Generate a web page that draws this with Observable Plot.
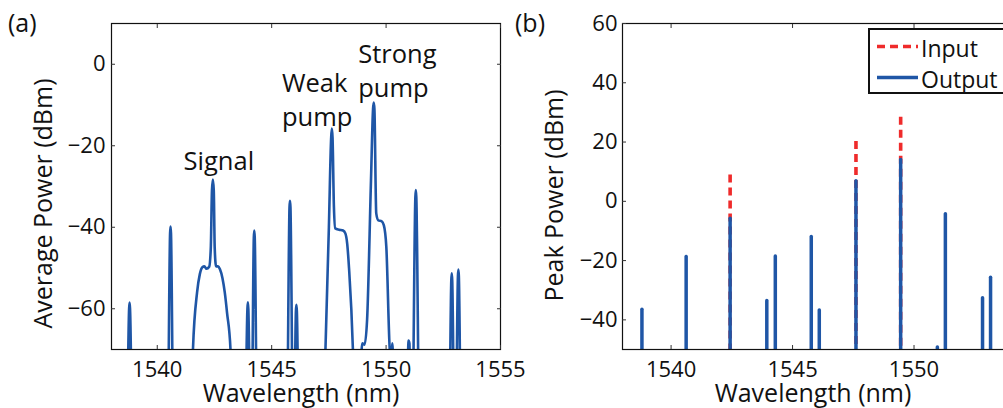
<!DOCTYPE html>
<html><head><meta charset="utf-8">
<script src="https://cdn.jsdelivr.net/npm/d3@7"></script>
<script src="https://cdn.jsdelivr.net/npm/@observablehq/plot@0.6"></script>
<style>
html,body{margin:0;padding:0;background:#fff;overflow:hidden;}
#wrap{position:relative;width:1003px;height:408px;overflow:hidden;font-family:"Open Sans",sans-serif;color:#111;}
.panel{position:absolute;top:0;}
.panel svg{max-width:none !important;}
.tag{position:absolute;font-size:25px;line-height:1;}
#legend{position:absolute;left:868px;top:28px;}
</style></head><body><div id="wrap"></div>
<script>
// ---- Panel (a): average power spectrum ----
const specWavelength = [1537.90,1538.66,1538.77,1538.79,1538.81,1538.92,1540.45,1540.56,1540.58,1540.60,1540.71,
 1541.45,1541.56,1541.74,1541.86,1541.97,1542.06,1542.15,1542.27,1542.34,1542.39,1542.43,1542.47,1542.51,1542.57,1542.66,1542.74,1542.85,1542.95,1543.05,1543.20,1543.30,
 1543.83,1543.94,1543.96,1543.98,1544.08,1544.12,1544.22,1544.24,1544.26,1544.37,
 1545.66,1545.78,1545.80,1545.82,1545.94,1545.97,1546.06,1546.08,1546.10,1546.20,
 1547.25,1547.35,1547.50,1547.60,1547.63,1547.66,1547.72,1547.78,1547.95,1548.12,1548.22,1548.30,1548.38,1548.55,1548.65,
 1548.85,1548.96,1549.06,1549.17,1549.34,1549.43,1549.46,1549.49,1549.57,1549.66,1549.80,1549.90,1550.01,1550.16,1550.22,1550.27,1550.32,1550.40,
 1550.90,1550.98,1551.02,1551.08,1551.14,1551.28,1551.30,1551.32,1551.46,
 1552.75,1552.85,1552.87,1552.89,1552.99,1553.04,1553.14,1553.16,1553.18,1553.28,1555.20];
const specPower = [-95,-92,-60,-58.5,-60,-92,-92,-41.5,-39.8,-41.5,-92,
 -92,-70,-56,-51.5,-49.8,-49.6,-50.2,-49.7,-45,-31,-28.3,-31,-45,-49.6,-49.6,-50.3,-52.5,-56,-61,-70,-92,
 -92,-60,-58.4,-60,-92,-92,-42.5,-40.8,-42.5,-92,
 -92,-35,-33.5,-35,-92,-92,-60.5,-59,-60.5,-92,
 -92,-70,-40,-18,-15.8,-18,-35,-40.3,-40.6,-40.8,-41.5,-44,-50,-70,-92,
 -80,-68.5,-68.8,-62.7,-28.5,-11,-9.4,-11,-36.6,-38.3,-38.5,-39.5,-44.8,-70,-73,-68.5,-75,-92,
 -92,-67.8,-68.5,-92,-92,-32.5,-30.9,-32.5,-92,
 -92,-53,-51.3,-53,-92,-92,-52,-50.4,-52,-92,-95];
const annotationText = ["Signal", "Weak\npump", "Strong\npump"];
const annotationWavelength = [1541.15, 1545.45, 1548.78];
const annotationPower = [-20.0, -0.95, 6.1];

// ---- Panel (b): peak power per line ----
const peakWavelength = [1538.80,1540.62,1542.43,1543.94,1544.29,1545.77,1546.10,1547.61,1549.45,1550.96,1551.29,1552.82,1553.15];
const peakOutput = [-36.6,-18.8,-5.9,-33.6,-18.6,-12.0,-36.8,6.8,13.9,-49.3,-4.4,-32.7,-25.8];
const inputWavelength = [1542.43,1547.61,1549.45];
const peakInput = [8.9,20.2,28.4];

// ---- axes ----
const xDomain = [1538, 1555];
const xTicks = [1540, 1545, 1550, 1555];
const xTicksShownB = [1540, 1545, 1550];
const yDomainA = [-70, 10];
const yTicksA = [-60, -40, -20, 0];
const yDomainB = [-50, 60];
const yTicksB = [-40, -20, 0, 20, 40, 60];
const seriesNames = ["Input", "Output"];

const FONT = '"Open Sans", sans-serif';
const BLUE = "#1f56a6";
const RED = "#ef2b2b";
const fmt = d => d < 0 ? "\u2212" + Math.abs(d) : String(d);

const spec = specWavelength.map((w, i) => ({w, p: specPower[i]}));
const ann = annotationText.map((t, i) => ({t, w: annotationWavelength[i], p: annotationPower[i]}));
const outData = peakWavelength.map((w, i) => ({w, p: peakOutput[i]}));
const inData = inputWavelength.map((w, i) => ({w, p: peakInput[i]}));

function boxAxes(xLabTicks, yTicks, pad, xLabel, yLabel, xdx, ydy) {
  const tk = {stroke: "#333", strokeWidth: 1, tickSize: 4, label: null, tickFormat: () => ""};
  return [
    Plot.frame({stroke: "#111", strokeWidth: 1.2}),
    Plot.axisX({...tk, ticks: xTicks, anchor: "bottom", dy: -4}),
    Plot.axisX({...tk, ticks: xTicks, anchor: "top", dy: 4}),
    Plot.axisY({...tk, ticks: yTicks, anchor: "left", dx: 4}),
    Plot.axisY({...tk, ticks: yTicks, anchor: "right", dx: -4}),
    Plot.axisX({ticks: xLabTicks, anchor: "bottom", tickSize: 0, tickPadding: 12, tickFormat: fmt, label: null, fontSize: 22, fill: "#111"}),
    Plot.axisY({ticks: yTicks, anchor: "left", tickSize: 0, tickPadding: pad, tickFormat: fmt, label: null, fontSize: 22, fill: "#111"}),
    Plot.text([xLabel], {frameAnchor: "bottom", textAnchor: "middle", lineAnchor: "middle", dy: 44.5, dx: xdx, fontSize: 25, fill: "#111"}),
    Plot.text([yLabel], {frameAnchor: "left", textAnchor: "middle", lineAnchor: "middle", rotate: -90, dx: -68, dy: ydy, fontSize: 25, fill: "#111"})
  ];
}

const plotA = Plot.plot({
  width: 520, height: 408,
  marginLeft: 111, marginRight: 20, marginTop: 23, marginBottom: 59,
  style: {fontFamily: FONT, background: "transparent", overflow: "visible", maxWidth: "none"},
  x: {domain: xDomain},
  y: {domain: yDomainA},
  marks: [
    Plot.line(spec, {x: "w", y: "p", stroke: BLUE, strokeWidth: 2.6, curve: "monotone-x", clip: true}),
    Plot.text(ann, {x: "w", y: "p", text: "t", textAnchor: "start", lineAnchor: "top", lineHeight: 1.33, fontSize: 25.5, fill: "#111"}),
    ...boxAxes(xTicks, yTicksA, 6, "Wavelength (nm)", "Average Power (dBm)", -5, 17)
  ]
});

const plotB = Plot.plot({
  width: 545, height: 408,
  marginLeft: 112, marginRight: 20, marginTop: 23, marginBottom: 59,
  style: {fontFamily: FONT, background: "transparent", overflow: "visible", maxWidth: "none"},
  x: {domain: xDomain},
  y: {domain: yDomainB},
  marks: [
    Plot.ruleX(inData, {x: "w", y1: "p", y2: yDomainB[0], stroke: RED, strokeWidth: 3.6, strokeDasharray: "8,5", clip: true}),
    Plot.ruleX(outData, {x: "w", y1: yDomainB[0], y2: "p", stroke: BLUE, strokeWidth: 3.5, strokeLinecap: "round", clip: true}),
    ...boxAxes(xTicksShownB, yTicksB, 5, "Wavelength (nm)", "Peak Power (dBm)", -16, 9)
  ]
});

const wrap = document.getElementById("wrap");
const pa = document.createElement("div"); pa.className = "panel"; pa.style.left = "0px"; pa.style.width = "520px"; pa.appendChild(plotA); wrap.appendChild(pa);
const pb = document.createElement("div"); pb.className = "panel"; pb.style.left = "510px"; pb.style.width = "545px"; pb.appendChild(plotB); wrap.appendChild(pb);

const tagA = document.createElement("div"); tagA.className = "tag"; tagA.textContent = "(a)"; tagA.style.left = "8px"; tagA.style.top = "10px"; wrap.appendChild(tagA);
const tagB = document.createElement("div"); tagB.className = "tag"; tagB.textContent = "(b)"; tagB.style.left = "515px"; tagB.style.top = "10px"; wrap.appendChild(tagB);

// legend
const lg = d3.select(wrap).append("svg").attr("id", "legend").attr("width", 160).attr("height", 67)
  .style("font-family", FONT);
lg.append("rect").attr("x", 1).attr("y", 1).attr("width", 170).attr("height", 64).attr("fill", "#fff").attr("stroke", "#111").attr("stroke-width", 2);
const rows = [{name: seriesNames[0], color: RED, dash: "8,5"}, {name: seriesNames[1], color: BLUE, dash: null}];
rows.forEach((r, i) => {
  const cy = 18.5 + i * 31;
  lg.append("line").attr("x1", 9).attr("x2", 50).attr("y1", cy).attr("y2", cy)
    .attr("stroke", r.color).attr("stroke-width", 3.6).attr("stroke-dasharray", r.dash);
  lg.append("text").attr("x", 53).attr("y", cy + 10).attr("font-size", 23).attr("fill", "#111").text(r.name);
});
</script>
</body></html>
